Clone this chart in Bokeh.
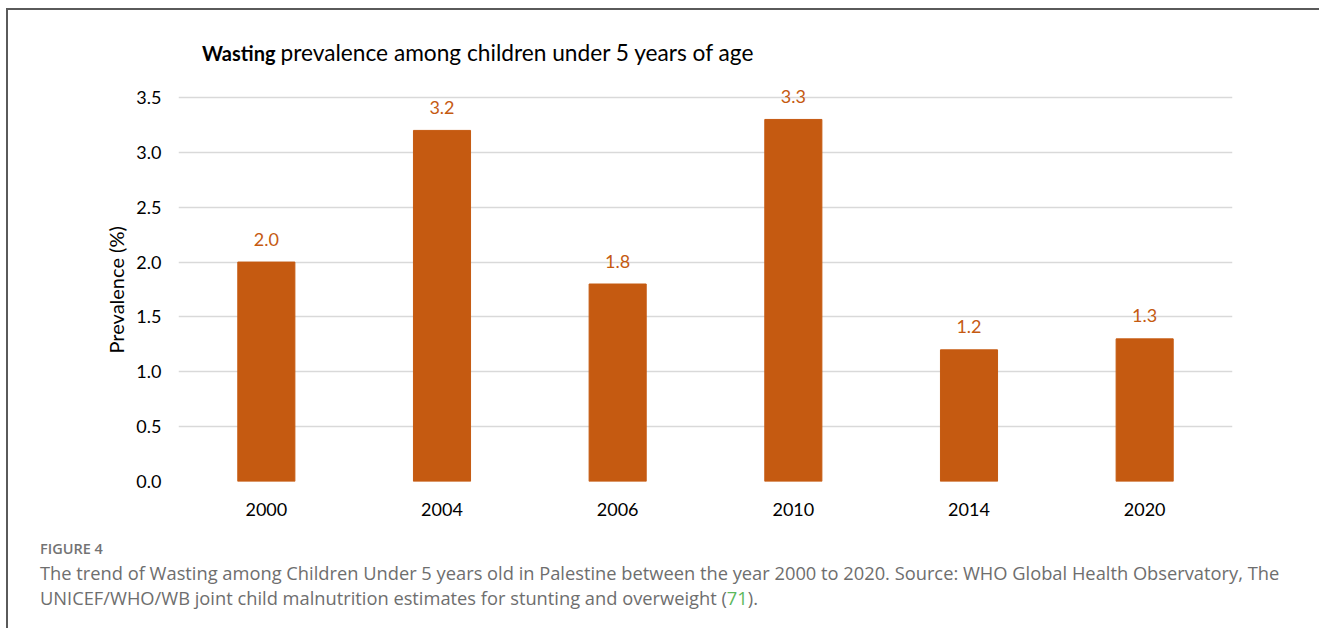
from bokeh.plotting import figure
from bokeh.layouts import column
from bokeh.models import (ColumnDataSource, Range1d, FactorRange, FixedTicker, Title,
                          NumeralTickFormatter, LabelSet, Label, Div)
from bokeh.core.properties import value
from bokeh.embed import file_html
from bokeh.resources import INLINE

# ---- data ----
years = ["2000", "2004", "2006", "2010", "2014", "2020"]
wasting = [2.0, 3.2, 1.8, 3.3, 1.2, 1.3]
value_labels = ["2.0", "3.2", "1.8", "3.3", "1.2", "1.3"]
y_ticks = [0.0, 0.5, 1.0, 1.5, 2.0, 2.5, 3.0, 3.5]

title_bold = "Wasting"
title_rest = "prevalence among children under 5 years of age"
y_title = "Prevalence (%)"
fig_label = "FIGURE 4"
caption_1 = ("The trend of Wasting among Children Under 5 years old in Palestine between the year "
             "2000 to 2020. Source: WHO Global Health Observatory, The")
caption_2a = "UNICEF/WHO/WB joint child malnutrition estimates for stunting and overweight ("
caption_ref = "71"
caption_2b = ")."

BAR = "#C55A11"
FONT = "Lato"
CAP_FONT = "Open Sans"

OX, OY = 8, 10                 # offset of the content box inside the page (border)
W, H = 1319 - OX, 520
FL, FR = 178 - OX, 1232 - OX   # gridline extent in figure pixels
G35, G0 = 97 - OY, 481 - OY    # pixel rows of gridlines 3.5 and 0.0
FT = 24                        # frame top (room for title)
PPU = (G0 - G35) / y_ticks[-1]
YTOP = y_ticks[-1] + (G35 - FT) / PPU

src = ColumnDataSource(dict(year=years, val=wasting, lab=value_labels))

p = figure(width=W, height=H, x_range=FactorRange(*years), y_range=Range1d(0, YTOP),
           output_backend="svg", toolbar_location=None,
           min_border_left=FL, min_border_right=W - FR, min_border_top=FT, min_border_bottom=H - G0)
p.outline_line_color = None
p.background_fill_color = "white"
p.border_fill_color = "white"
p.x_range.range_padding = 0

p.vbar(x="year", top="val", width=0.325, source=src, color=BAR)

p.add_layout(LabelSet(x="year", y="val", text="lab", source=src, y_offset=23,
                      text_align="center", text_baseline="middle",
                      text_color=BAR, text_font=value(FONT), text_font_size="18px"))

# axes
p.yaxis.ticker = FixedTicker(ticks=y_ticks)
p.yaxis.formatter = NumeralTickFormatter(format="0.0")
for ax in (p.xaxis[0], p.yaxis[0]):
    ax.axis_line_color = None
    ax.major_tick_line_color = None
    ax.minor_tick_line_color = None
    ax.major_tick_out = 0
    ax.major_tick_in = 0
    ax.major_label_text_font = FONT
    ax.major_label_text_font_size = "18px"
    ax.major_label_text_color = "#000000"
p.yaxis.major_label_standoff = 17
p.xaxis.major_label_standoff = 21

# y-axis title, placed in the left side panel, anchored from the frame bottom
p.add_layout(Title(text=y_title, align="left", offset=128, standoff=11,
                   text_font=FONT, text_font_size="20px", text_font_style="normal",
                   text_color="#000000"), "left")

p.xgrid.grid_line_color = None
p.ygrid.grid_line_color = "#d9d9d9"
p.ygrid.grid_line_width = 1.5

# title (bold part + regular part), positioned in pixels -> data
NX = len(years)
def xd(px):
    return (px - OX - FL) / (FR - FL) * NX
def yd(py):
    return (G0 - (py - OY)) / PPU

p.add_layout(Label(x=xd(275), y=yd(52), text=title_bold, text_align="right", text_baseline="middle",
                   text_font=FONT, text_font_size="20px", text_font_style="bold", text_color="#000000"))
p.add_layout(Label(x=xd(280), y=yd(52), text=title_rest, text_align="left", text_baseline="middle",
                   text_font=FONT, text_font_size="22.7px", text_color="#000000"))

caption_html = (
    f'<div style="font-family:\'{CAP_FONT}\',sans-serif;color:#6e6e6e;padding-left:{35 - OX}px;'
    f'padding-top:3px;white-space:nowrap;">'
    f'<div style="font-size:14.5px;font-weight:600;line-height:22px;color:#737373;margin:0;">{fig_label}</div>'
    f'<div style="font-size:18.3px;line-height:25px;margin:0;">{caption_1}<br>{caption_2a}'
    f'<span style="color:#5cb85c;">{caption_ref}</span>{caption_2b}</div>'
    f'</div>'
)
cap = Div(text=caption_html, width=W, height=628 - OY - H)

root = column(p, cap, styles={"border-left": "2px solid #5a5a5a", "border-top": "2px solid #5a5a5a",
                              "margin-left": f"{OX - 2}px", "margin-top": f"{OY - 2}px"})

open("out.html", "w").write(file_html(root, INLINE))
